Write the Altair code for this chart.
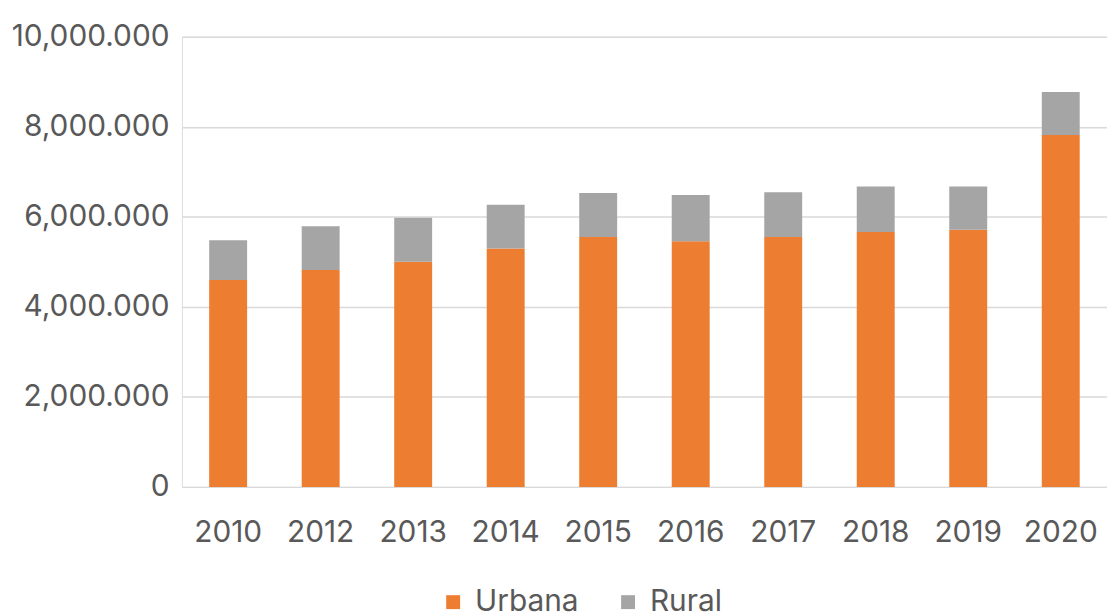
import altair as alt
import pandas as pd

years = ["2010", "2012", "2013", "2014", "2015", "2016", "2017", "2018", "2019", "2020"]
urbana = [4595000, 4820000, 5000000, 5295000, 5550000, 5455000, 5550000, 5660000, 5710000, 7815000]
rural = [885000, 970000, 980000, 970000, 980000, 1030000, 995000, 1015000, 965000, 955000]

series_names = ["Urbana", "Rural"]
series_colors = ["#ED7D31", "#A5A5A5"]

rows = []
for i, y in enumerate(years):
    rows.append({"Año": y, "Zona": "Urbana", "Valor": urbana[i], "orden": 0})
    rows.append({"Año": y, "Zona": "Rural", "Valor": rural[i], "orden": 1})
df = pd.DataFrame(rows)

FONT = "Inter"
FS = 30
TXT = "#595959"

label_expr = ("datum.value == 0 ? '0' : slice(format(datum.value, ','), 0, length(format(datum.value, ',')) - 4)"
              " + '.' + slice(format(datum.value, ','), -3)")

chart = alt.Chart(df).mark_bar().encode(
    x=alt.X("Año:N", sort=years,
            scale=alt.Scale(paddingInner=0.59, paddingOuter=0.295, round=False),
            axis=alt.Axis(title=None, labelAngle=0, domain=False, ticks=False,
                          labelFontSize=FS, labelColor=TXT, labelFont=FONT,
                          labelPadding=31)),
    y=alt.Y("Valor:Q", stack="zero",
            scale=alt.Scale(domain=[0, 10000000], nice=False),
            axis=alt.Axis(title=None, values=[0, 2000000, 4000000, 6000000, 8000000, 10000000],
                          labelExpr=label_expr, domain=False, ticks=False,
                          labelFontSize=FS, labelColor=TXT, labelFont=FONT,
                          labelPadding=13, gridColor="#D9D9D9", gridWidth=1.5)),
    color=alt.Color("Zona:N",
                    scale=alt.Scale(domain=series_names, range=series_colors),
                    legend=alt.Legend(title=None, orient="none", direction="horizontal",
                                      legendX=258, legendY=554,
                                      symbolType="square", symbolSize=196,
                                      symbolStrokeWidth=0, symbolOpacity=1,
                                      labelFontSize=FS, labelColor=TXT, labelFont=FONT,
                                      columnPadding=34, labelOffset=7)),
    order=alt.Order("orden:Q"),
).properties(
    width=931, height=453,
    autosize=alt.AutoSizeParams(type="none"),
    padding={"left": 175, "top": 27, "right": 0, "bottom": 125},
).configure_view(stroke=None).configure(background="white")

chart.save("out.html", embed_options={"renderer": "svg", "actions": False})
